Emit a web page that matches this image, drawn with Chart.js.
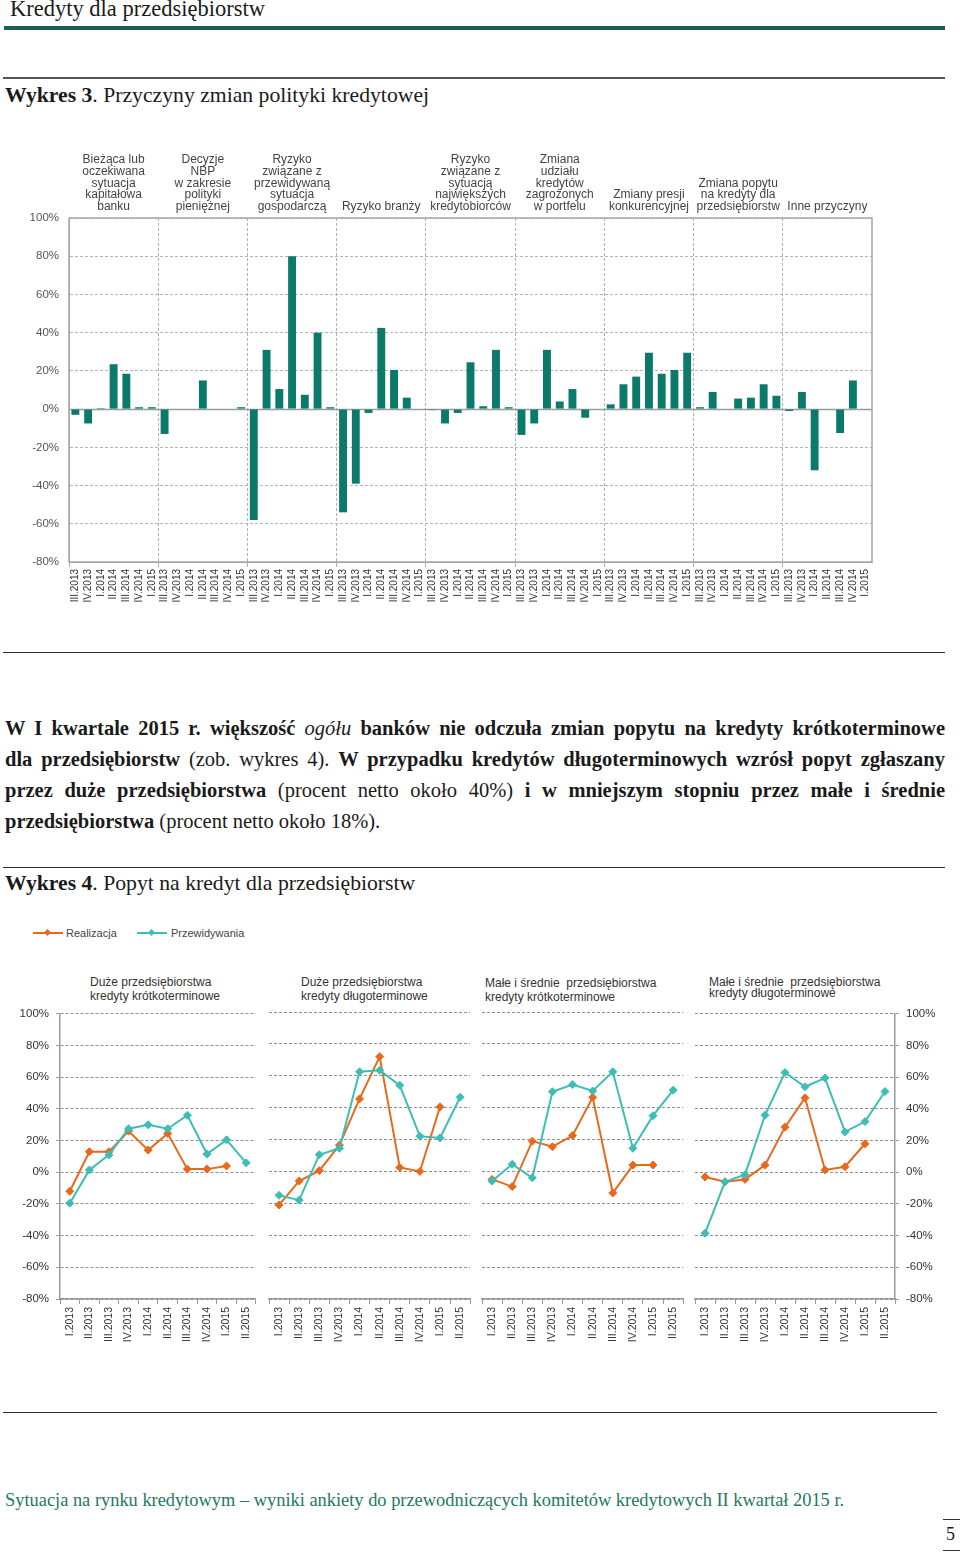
<!DOCTYPE html>
<html>
  <head>
    <title>Kredyty dla przedsiębiorstw</title>
    <meta charset="UTF-8" />
    <script src="https://cdn.jsdelivr.net/npm/chart.js@4.4.0/dist/chart.umd.min.js"></script>
    <style>
      body { margin: 0; width: 960px; height: 1553px; position: relative; overflow: hidden; background: #fff;
             font-family: "Liberation Serif", serif; color: #1a1a1a; }
      .abs { position: absolute; }
      .rule { position: absolute; background: #333; }
      .head { position: absolute; font-size: 21.7px; line-height: 24px; white-space: nowrap; }
      .para { position: absolute; left: 5px; top: 713px; width: 940px; font-size: 20.5px; line-height: 31px; }
      .ln { text-align: justify; text-align-last: justify; }
      .ln.last { text-align-last: left; }
      .sans { font-family: "Liberation Sans", Arial, sans-serif; color: #333; white-space: nowrap; }
      canvas { position: absolute; }
    </style>
  </head>
  <body>
    <div class="head" style="left:10px;top:-3px;font-size:22.5px;">Kredyty dla przedsiębiorstw</div>
    <div class="rule" style="left:4px;top:26px;width:941px;height:4px;background:#1d5c58;"></div>

    <div class="rule" style="left:3px;top:77px;width:942px;height:2px;background:#555;"></div>
    <div class="head" style="left:5px;top:83px;"><b>Wykres 3</b>. Przyczyny zmian polityki kredytowej</div>

    <canvas id="reasonsChart" width="960" height="472" style="left:0;top:140px;"></canvas>

    <div class="rule" style="left:3px;top:652px;width:942px;height:1px;"></div>

    <div class="para">
      <div class="ln"><b>W I kwartale 2015 r. większość</b> <i>ogółu</i> <b>banków nie odczuła zmian popytu na kredyty krótkoterminowe</b></div>
      <div class="ln"><b>dla przedsiębiorstw</b> (zob. wykres 4). <b>W przypadku kredytów długoterminowych wzrósł popyt zgłaszany</b></div>
      <div class="ln"><b>przez duże przedsiębiorstwa</b> (procent netto około 40%) <b>i w mniejszym stopniu przez małe i średnie</b></div>
      <div class="ln last"><b>przedsiębiorstwa</b> (procent netto około 18%).</div>
    </div>

    <div class="rule" style="left:3px;top:867px;width:942px;height:1px;"></div>
    <div class="head" style="left:5px;top:871px;"><b>Wykres 4</b>. Popyt na kredyt dla przedsiębiorstw</div>

    <!-- legend -->
    <div class="abs" style="left:33px;top:932px;width:30px;height:2px;background:#e8691c;"></div>
    <div class="abs" style="left:45px;top:930px;width:5px;height:5px;background:#e8691c;transform:rotate(45deg);"></div>
    <div class="abs sans" style="left:66px;top:926px;font-size:11px;line-height:14px;color:#444;">Realizacja</div>
    <div class="abs" style="left:137px;top:932px;width:30px;height:2px;background:#3dbdb5;"></div>
    <div class="abs" style="left:149px;top:930px;width:5px;height:5px;background:#3dbdb5;transform:rotate(45deg);"></div>
    <div class="abs sans" style="left:171px;top:926px;font-size:11px;line-height:14px;color:#444;">Przewidywania</div>

    <div id="titles"></div>

    <canvas id="p1" width="262" height="354" style="left:0;top:1000px;"></canvas>
    <canvas id="p2" width="212" height="354" style="left:264px;top:1000px;"></canvas>
    <canvas id="p3" width="212" height="354" style="left:477px;top:1000px;"></canvas>
    <canvas id="p4" width="270" height="354" style="left:690px;top:1000px;"></canvas>

    <div class="rule" style="left:3px;top:1412px;width:934px;height:1px;"></div>
    <div class="abs" style="left:5px;top:1489px;font-size:18.4px;line-height:22px;color:#23795f;white-space:nowrap;">Sytuacja na rynku kredytowym – wyniki ankiety do przewodniczących komitetów kredytowych II kwartał 2015 r.</div>
    <div class="rule" style="left:943px;top:1519px;width:17px;height:1px;"></div>
    <div class="abs" style="left:946px;top:1523px;font-size:18px;line-height:22px;">5</div>
    <div class="rule" style="left:943px;top:1550px;width:17px;height:1px;"></div>

    <script>
      var SANS = "'Liberation Sans', Arial, sans-serif";

      // Wykres 3
      var quarters = ["III.2013", "IV.2013", "I.2014", "II.2014", "III.2014", "IV.2014", "I.2015"];
      var reasons = [
        ["Bieżąca lub", "oczekiwana", "sytuacja", "kapitałowa", "banku"],
        ["Decyzje", "NBP", "w zakresie", "polityki", "pieniężnej"],
        ["Ryzyko", "związane z", "przewidywaną", "sytuacja", "gospodarczą"],
        ["Ryzyko branży"],
        ["Ryzyko", "związane z", "sytuacją", "największych", "kredytobiorców"],
        ["Zmiana", "udziału", "kredytów", "zagrożonych", "w portfelu"],
        ["Zmiany presji", "konkurencyjnej"],
        ["Zmiana popytu", "na kredyty dla", "przedsiębiorstw"],
        ["Inne przyczyny"]
      ];
      var capital = [-3, -7.5, 0.5, 23.5, 18.5, 1, 1];
      var nbp = [-13, 0, 0, 15, 0, 0, 1];
      var economy = [-58, 31, 10.5, 80, 7.5, 40, 1];
      var industry = [-54, -39, -2, 42.5, 20.5, 6, 0];
      var borrowers = [-0.5, -7.5, -2, 24.5, 1.5, 31, 1];
      var badLoans = [-13.5, -7.5, 31, 4, 10.5, -4.5, 0];
      var competition = [2.5, 13, 17, 29.5, 18.5, 20.5, 29.5];
      var demand = [1, 9, 0, 5.5, 6, 13, 7];
      var other = [-1, 9, -32, 0, -12.5, 15, 0];
      var reasonValues = [capital, nbp, economy, industry, borrowers, badLoans, competition, demand, other];

      // Wykres 4
      var quarters2 = ["I.2013", "II.2013", "III.2013", "IV.2013", "I.2014", "II.2014", "III.2014", "IV.2014", "I.2015", "II.2015"];
      var panelTitles = [
        ["Duże przedsiębiorstwa", "kredyty krótkoterminowe"],
        ["Duże przedsiębiorstwa", "kredyty długoterminowe"],
        ["Małe i średnie  przedsiębiorstwa", "kredyty krótkoterminowe"],
        ["Małe i średnie  przedsiębiorstwa", "kredyty długoterminowe"]
      ];
      var bigShortReal = [-12, 13, 13, 26, 14, 24.5, 2, 2, 4, null];
      var bigShortFcst = [-19.5, 1.5, 11, 27.5, 30, 27.5, 36, 11.5, 20.5, 6];
      var bigLongReal = [-21, -6, 0.5, 16.5, 45.5, 72, 2.5, 0, 40.5, null];
      var bigLongFcst = [-15, -18, 10.5, 14.5, 62.5, 63.5, 54, 22, 21, 46.5];
      var smeShortReal = [-5, -9.5, 19, 15.5, 22.5, 46.5, -13.5, 4, 4, null];
      var smeShortFcst = [-6, 4.5, -4, 50, 54.5, 50.5, 62.5, 14.5, 35, 51];
      var smeLongReal = [-3, -6, -4.5, 4.5, 28.5, 47, 1.5, 3.5, 18, null];
      var smeLongFcst = [-38.5, -6, -1.5, 36, 63, 54, 59.5, 25.5, 32, 51];

      var ORANGE = "#e8691c";
      var TEAL = "#3dbdb5";

      // ---- chart 3: bars ----
      var topLabels = [];
      var topValues = [];
      reasonValues.forEach(function (arr) {
        quarters.forEach(function (q, i) {
          topLabels.push(q);
          topValues.push(arr[i]);
        });
      });

      var boxPlugin = {
        id: "box",
        beforeDatasetsDraw: function (chart) {
          var a = chart.chartArea, ctx = chart.ctx;
          var z = Math.round(chart.scales.y.getPixelForValue(0)) + 0.5;
          ctx.save();
          ctx.strokeStyle = "#9a9a9a";
          ctx.lineWidth = 1.5;
          ctx.beginPath();
          ctx.moveTo(a.left, z);
          ctx.lineTo(a.right, z);
          ctx.stroke();
          ctx.restore();
        },
        afterDraw: function (chart) {
          var a = chart.chartArea, ctx = chart.ctx;
          ctx.save();
          ctx.strokeStyle = "#a6a6a6";
          ctx.lineWidth = 1.5;
          ctx.strokeRect(a.left, a.top, a.right - a.left, a.bottom - a.top);
          ctx.restore();
        }
      };

      var headerPlugin = {
        id: "headers",
        afterDraw: function (chart) {
          var x = chart.scales.x, top = chart.chartArea.top, ctx = chart.ctx;
          ctx.save();
          ctx.font = "12px " + SANS;
          ctx.fillStyle = "#444";
          ctx.textAlign = "center";
          reasons.forEach(function (lines, g) {
            var cx = (x.getPixelForValue(g * 7) + x.getPixelForValue(g * 7 + 6)) / 2;
            lines.forEach(function (t, k) {
              ctx.fillText(t, cx, top - 8 - (lines.length - 1 - k) * 11.7);
            });
          });
          ctx.restore();
        }
      };

      new Chart(document.getElementById("reasonsChart").getContext("2d"), {
        type: "bar",
        data: {
          labels: topLabels,
          datasets: [{
            data: topValues,
            backgroundColor: "#0b7a6b",
            barPercentage: 0.62,
            categoryPercentage: 1
          }]
        },
        options: {
          responsive: false,
          animation: false,
          layout: { padding: { top: 78, right: 88, left: 0, bottom: 0 } },
          plugins: { legend: { display: false }, tooltip: { enabled: false } },
          scales: {
            x: {
              offset: true,
              grid: {
                offset: true,
                color: function (c) { return c.index % 7 === 0 ? "#b0b0b0" : "transparent"; },
                tickLength: 5
              },
              border: { color: "#a6a6a6", dash: [3, 2] },
              ticks: { autoSkip: false, minRotation: 90, maxRotation: 90, padding: 2,
                       font: { family: SANS, size: 10 }, color: "#333" },
              afterFit: function (s) { s.height = 50; }
            },
            y: {
              min: -80,
              max: 100,
              ticks: { stepSize: 20, padding: 10, callback: function (v) { return v + "%"; },
                       font: { family: SANS, size: 11.5 }, color: "#555" },
              grid: { color: "#b4b4b4", drawTicks: false },
              border: { color: "#a6a6a6", dash: [3, 2] },
              afterFit: function (s) { s.width = 69; }
            }
          }
        },
        plugins: [boxPlugin, headerPlugin]
      });

      // ---- chart 4: four line panels ----
      var titlePos = [[90, 975, 14], [301, 975, 14], [485, 977, 13.5], [709, 977, 11]];
      var titlesHtml = "";
      panelTitles.forEach(function (t, i) {
        titlesHtml += '<div class="abs sans" style="left:' + titlePos[i][0] + 'px;top:' + titlePos[i][1] +
          'px;font-size:12px;line-height:' + titlePos[i][2] + 'px;white-space:pre;">' + t[0] + "<br>" + t[1] + "</div>";
      });
      document.getElementById("titles").innerHTML = titlesHtml;

      function makePanel(id, real, fcst, side, padLeft, padRight) {
        new Chart(document.getElementById(id).getContext("2d"), {
          type: "line",
          data: {
            labels: quarters2,
            datasets: [
              { label: "Realizacja", data: real, borderColor: ORANGE, backgroundColor: ORANGE,
                borderWidth: 2, pointStyle: "rectRot", pointRadius: 4, pointBorderWidth: 1, order: 1 },
              { label: "Przewidywania", data: fcst, borderColor: TEAL, backgroundColor: TEAL,
                borderWidth: 2, pointStyle: "rectRot", pointRadius: 4, pointBorderWidth: 1, order: 0 }
            ]
          },
          options: {
            responsive: false,
            animation: false,
            layout: { padding: { top: 12, left: padLeft, right: padRight, bottom: 0 } },
            plugins: { legend: { display: false }, tooltip: { enabled: false } },
            scales: {
              x: {
                offset: true,
                grid: { offset: true, drawOnChartArea: false, tickLength: 5, color: "#999" },
                border: { color: "#999", width: 1.5 },
                ticks: { autoSkip: false, minRotation: 90, maxRotation: 90, padding: 3,
                         font: { family: SANS, size: 10.5 }, color: "#333" },
                afterFit: function (s) { s.height = 55; }
              },
              y: {
                min: -80,
                max: 100,
                position: side === "right" ? "right" : "left",
                ticks: { display: side !== "none", stepSize: 20, padding: 7,
                         callback: function (v) { return v + "%"; },
                         font: { family: SANS, size: 11.5 }, color: "#333" },
                grid: { color: "#8f8f8f", drawTicks: side !== "none", tickLength: 4, tickColor: "#999" },
                border: { display: side !== "none", color: "#9a9a9a", width: 1.5, dash: [3, 2] },
                afterFit: function (s) { s.width = side === "left" ? 60 : (side === "right" ? 65 : 0); }
              }
            }
          }
        });
      }

      makePanel("p1", bigShortReal, bigShortFcst, "left", 0, 3);
      makePanel("p2", bigLongReal, bigLongFcst, "none", 4, 3);
      makePanel("p3", smeShortReal, smeShortFcst, "none", 4, 3);
      makePanel("p4", smeLongReal, smeLongFcst, "right", 3, 0);
    </script>
  </body>
</html>
